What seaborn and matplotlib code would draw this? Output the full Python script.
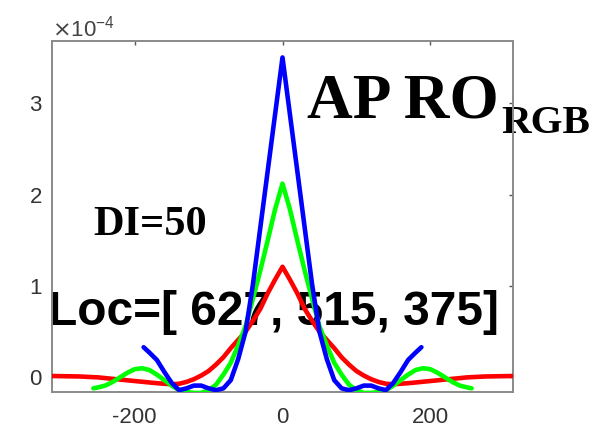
import numpy as np
import pandas as pd
import matplotlib
matplotlib.use("Agg")
import matplotlib.pyplot as plt
import seaborn as sns

# ---- data (values in units of 1e-4) ----
red_x = [-312, -275, -250, -225, -200, -175, -160, -150, -140, -130, -120, -110, -100, -90, -80, -70, -60, -50, -40, -30, -20, -10, 0,
         10, 20, 30, 40, 50, 60, 70, 80, 90, 100, 110, 120, 130, 140, 150, 160, 175, 200, 225, 250, 275, 312]
red_y = [0.015, 0.01, 0.00, -0.02, -0.04, -0.06, -0.07, -0.075, -0.07, -0.05, -0.02, 0.02, 0.07, 0.14, 0.22, 0.32, 0.41, 0.50, 0.62, 0.75, 0.92, 1.07, 1.21,
         1.07, 0.92, 0.75, 0.62, 0.50, 0.41, 0.32, 0.22, 0.14, 0.07, 0.02, -0.02, -0.05, -0.07, -0.075, -0.07, -0.06, -0.04, -0.02, 0.00, 0.01, 0.015]

green_x = [-256, -250, -240, -230, -220, -210, -200, -190, -180, -170, -160, -150, -140, -130, -120, -110, -100, -90, -80, -70, -60, -50, -40, -30, -20, -10, 0,
           10, 20, 30, 40, 50, 60, 70, 80, 90, 100, 110, 120, 130, 140, 150, 160, 170, 180, 190, 200, 210, 220, 230, 240, 250, 256]
green_y = [-0.12, -0.11, -0.09, -0.05, 0.00, 0.05, 0.09, 0.10, 0.08, 0.03, -0.03, -0.09, -0.14, -0.16, -0.17, -0.17, -0.14, -0.08, 0.03, 0.16, 0.35, 0.56, 0.86, 1.17, 1.50, 1.84, 2.12,
           1.84, 1.50, 1.17, 0.86, 0.56, 0.35, 0.16, 0.03, -0.08, -0.14, -0.17, -0.17, -0.16, -0.14, -0.09, -0.03, 0.03, 0.08, 0.10, 0.09, 0.05, 0.00, -0.05, -0.09, -0.11, -0.12]

blue_x = [-188, -180, -170, -160, -150, -140, -130, -120, -110, -100, -90, -80, -70, -60, -50, -40, -30, -20, -10, 0,
          10, 20, 30, 40, 50, 60, 70, 80, 90, 100, 110, 120, 130, 140, 150, 160, 170, 180, 188]
blue_y = [0.33, 0.27, 0.19, 0.06, -0.06, -0.14, -0.12, -0.09, -0.09, -0.12, -0.14, -0.12, -0.03, 0.20, 0.50, 1.02, 1.64, 2.26, 2.88, 3.50,
          2.88, 2.26, 1.64, 1.02, 0.50, 0.20, -0.03, -0.12, -0.14, -0.12, -0.09, -0.09, -0.12, -0.14, -0.06, 0.06, 0.19, 0.27, 0.33]

series_names = ["R", "G", "B"]
series_colors = ["#ff0000", "#00ff00", "#0000ff"]
x_ticks = [-200, 0, 200]
y_ticks = [0, 1e-4, 2e-4, 3e-4]
scale = 1e-4

frames = []
for name, xs, ys in zip(series_names, [red_x, green_x, blue_x], [red_y, green_y, blue_y]):
    frames.append(pd.DataFrame({"x": xs, "y": np.array(ys) * scale, "series": name}))
df = pd.concat(frames, ignore_index=True)

sns.set_style("white")
plt.rcParams["font.family"] = ["Liberation Sans", "DejaVu Sans"]
plt.rcParams["axes.unicode_minus"] = False

W, H = 594, 428
fig = plt.figure(figsize=(W / 100, H / 100), dpi=100)
ax = fig.add_axes([52 / W, 1 - 392 / H, (513 - 52) / W, (392 - 41) / H])

sns.lineplot(data=df, x="x", y="y", hue="series", hue_order=series_names,
             palette=dict(zip(series_names, series_colors)), linewidth=3.3,
             sort=False, estimator=None, legend=False, ax=ax, zorder=3)

ax.set_xlim(-312, 312)
ax.set_ylim(-0.16e-4, 3.68e-4)
ax.set_xticks(x_ticks)
ax.set_yticks(y_ticks)
ax.set_xlabel("")
ax.set_ylabel("")
ax.ticklabel_format(axis="y", style="sci", scilimits=(0, 0), useMathText=True)

for s in ax.spines.values():
    s.set_color("#8a8a8a")
    s.set_linewidth(1.4)
ax.tick_params(axis="both", direction="in", length=3, width=1, color="#555555",
               labelsize=16, labelcolor="#333333", top=True, right=True, pad=7)
ax.tick_params(axis="x", pad=11)
ax.yaxis.get_offset_text().set_fontsize(16)
ax.yaxis.get_offset_text().set_color("#444444")

def fpos(px, py):
    return px / W, 1 - py / H

tr = fig.transFigure
ax.text(*fpos(307, 117), "AP RO", transform=tr, fontsize=45.5, fontweight="bold", color="black",
        family="Liberation Serif", ha="left", va="baseline", zorder=2, clip_on=False)
ax.text(*fpos(501, 133), "RGB", transform=tr, fontsize=29.5, fontweight="bold", color="black",
        family="Liberation Serif", ha="left", va="baseline", zorder=2, clip_on=False)
ax.text(*fpos(93, 235), "DI=50", transform=tr, fontsize=30.5, fontweight="bold", color="black",
        family="Liberation Serif", ha="left", va="baseline", zorder=2, clip_on=False)
ax.text(*fpos(48, 325), "Loc=[ 627, 515, 375]", transform=tr, fontsize=34.5, fontweight="bold", color="black",
        family="Liberation Sans", ha="left", va="baseline", zorder=2, clip_on=False)

fig.savefig("out.png", dpi=100)
